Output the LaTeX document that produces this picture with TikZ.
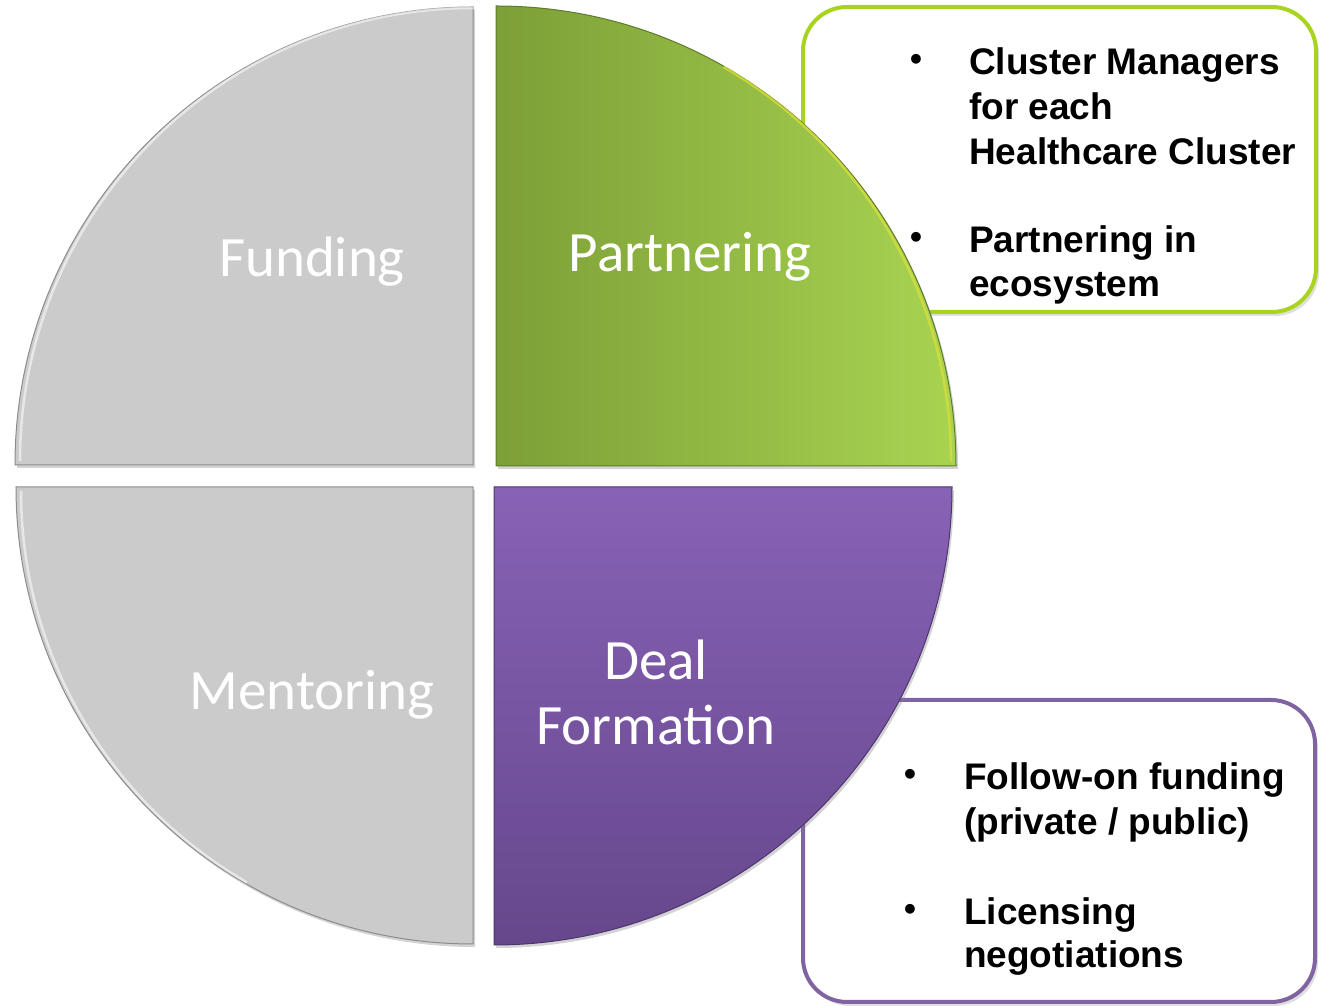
\documentclass[tikz,border=0pt]{standalone}
\usepackage{fontspec}
\setmainfont{Liberation Sans}
\newfontfamily\calib{Carlito}
\usetikzlibrary{shadows}
\definecolor{qgray}{HTML}{CBCBCB}
\definecolor{qgrayedge}{HTML}{8C8C8C}
\definecolor{gdark}{HTML}{7D9F37}
\definecolor{glight}{HTML}{A8D451}
\definecolor{gedge}{HTML}{5F7A2A}
\definecolor{ptop}{HTML}{8862B6}
\definecolor{pbot}{HTML}{66478C}
\definecolor{pedge}{HTML}{4F356F}
\definecolor{boxgreen}{HTML}{A8D41E}
\definecolor{boxpurple}{HTML}{8064A2}
\tikzset{
  qshadow/.style={drop shadow={shadow xshift=2pt, shadow yshift=-3pt, opacity=0.35}},
  edge/.style={line width=1pt},
  hilite/.style={line width=2.5pt, white, opacity=0.55},
  infobox/.style={line width=4pt, rounded corners=44pt, fill=white,
    drop shadow={shadow xshift=3pt, shadow yshift=-4pt, opacity=0.25}},
  lbl/.style={font=\calib\fontsize{57}{65}\selectfont, text=white, inner sep=0pt, anchor=base},
  btxt/.style={font=\bfseries\fontsize{37}{44}\selectfont, anchor=base west, inner sep=0pt},
  bul/.style={font=\bfseries\fontsize{34}{40}\selectfont, anchor=base, inner sep=0pt}
}
\begin{document}
\begin{tikzpicture}[x=1pt,y=1pt]
\useasboundingbox (0,0) rectangle (1320,1006);
% info boxes (behind quadrants)
\draw[infobox, draw=boxgreen] (803,694) rectangle (1316,999);
\draw[infobox, draw=boxpurple] (803,4) rectangle (1315,306);
% top-left quadrant
\filldraw[qshadow, edge, fill=qgray, draw=qgrayedge]
  (473,541) -- (15,541) arc[start angle=180, end angle=90, radius=458] -- cycle;
\draw[hilite] (20,545) arc[start angle=180, end angle=90, radius=453];
% top-right quadrant
\shade[qshadow, left color=gdark, right color=glight]
  (496,540) -- (956,540) arc[start angle=0, end angle=90, radius=460] -- cycle;
\draw[edge, draw=gedge]
  (496,540) -- (956,540) arc[start angle=0, end angle=90, radius=460] -- cycle;
\draw[line width=2.5pt, yellow!55!glight, opacity=0.75] (951,545) arc[start angle=0, end angle=60, radius=455];
% bottom-left quadrant
\filldraw[qshadow, edge, fill=qgray, draw=qgrayedge]
  (473,519) -- (16,519) arc[start angle=180, end angle=270, radius=457] -- cycle;
\draw[hilite] (21,515) arc[start angle=180, end angle=240, radius=452];
% bottom-right quadrant
\shade[qshadow, top color=ptop, bottom color=pbot]
  (494,519) -- (952,519) arc[start angle=0, end angle=-90, radius=458] -- cycle;
\draw[edge, draw=pedge]
  (494,519) -- (952,519) arc[start angle=0, end angle=-90, radius=458] -- cycle;
% quadrant labels
\node[lbl] (funding) at (312,729) {Funding};
\node[lbl] (partnering) at (690,734) {Partnering};
\node[lbl] (mentoring) at (312,296) {Mentoring};
\node[lbl] (deal) at (656,326) {Deal};
\node[lbl] (formation) at (656,261) {Formation};
% green box text
\node[bul] (gb1) at (916,935) {•};
\node[btxt] (g1) at (969,931) {Cluster Managers};
\node[btxt] (g2) at (969,886) {for each};
\node[btxt] (g3) at (969,841) {Healthcare Cluster};
\node[bul] (gb2) at (916,757) {•};
\node[btxt] (g4) at (969,753) {Partnering in};
\node[btxt] (g5) at (969,709) {ecosystem};
% purple box text
\node[bul] (pb1) at (910,220) {•};
\node[btxt] (p1) at (964,216) {Follow-on funding};
\node[btxt] (p2) at (964,171) {(private / public)};
\node[bul] (pb2) at (910,85) {•};
\node[btxt] (p3) at (964,81) {Licensing};
\node[btxt] (p4) at (964,38) {negotiations};
\end{tikzpicture}
\end{document}
